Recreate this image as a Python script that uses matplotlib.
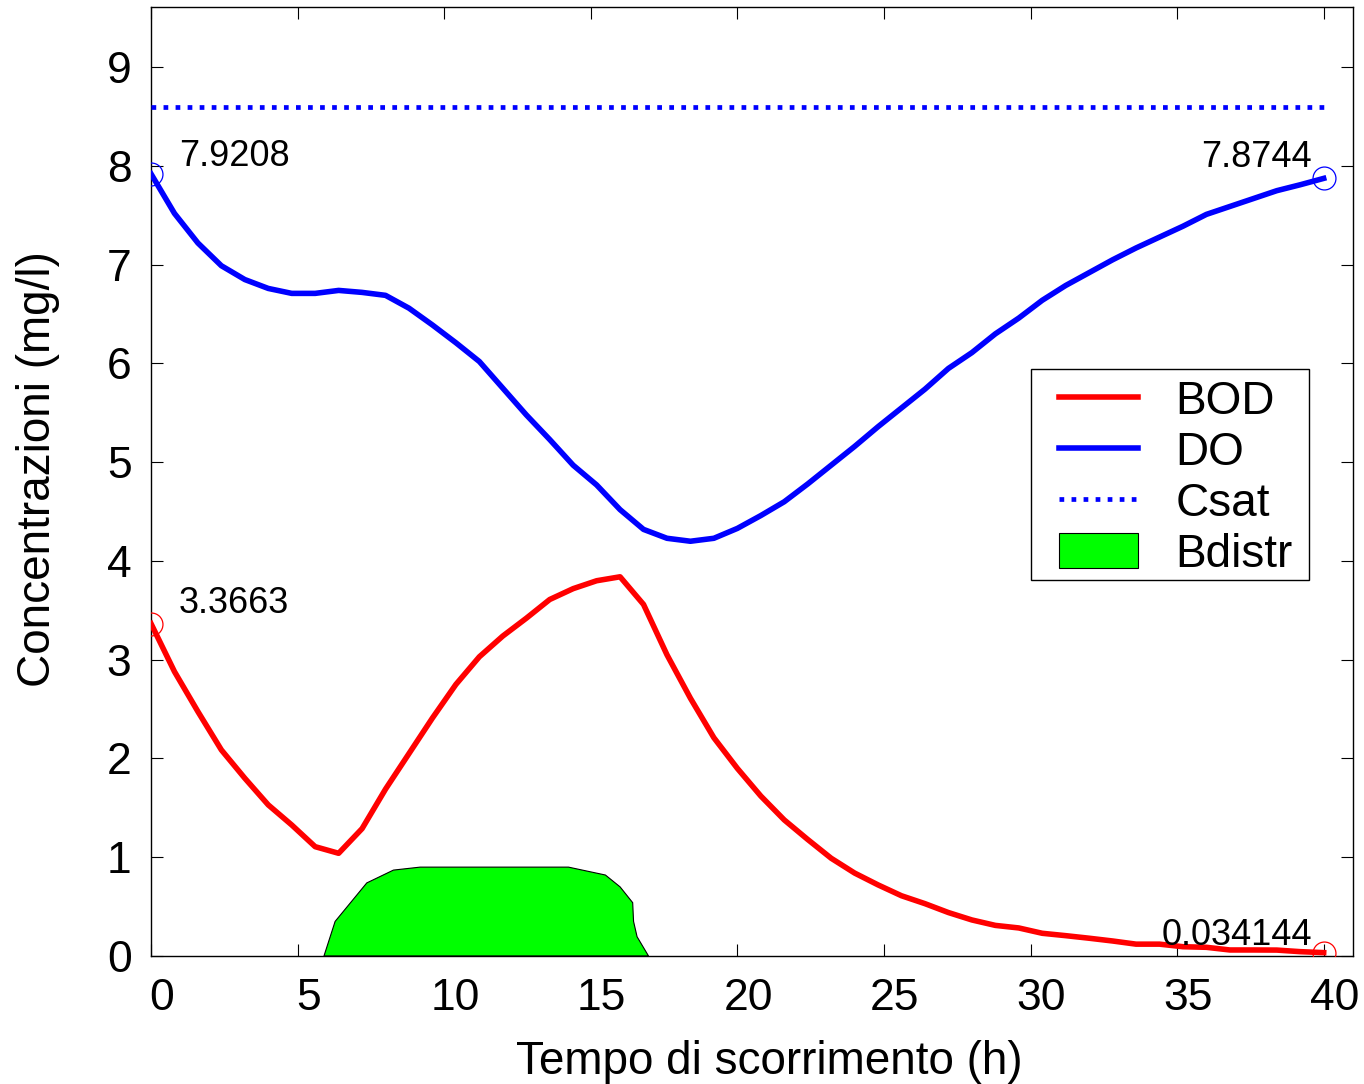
import numpy as np
import matplotlib
matplotlib.use("Agg")
import matplotlib.pyplot as plt
from matplotlib.transforms import ScaledTranslation
from matplotlib.patches import Rectangle

plt.rcParams['font.family'] = ['Liberation Sans', 'DejaVu Sans']

# time grid (h)
t = [0.0, 0.8, 1.6, 2.4, 3.2, 4.0, 4.8, 5.6, 6.4, 7.2,
     8.0, 8.8, 9.6, 10.4, 11.2, 12.0, 12.8, 13.6, 14.4, 15.2,
     16.0, 16.8, 17.6, 18.4, 19.2, 20.0, 20.8, 21.6, 22.4, 23.2,
     24.0, 24.8, 25.6, 26.4, 27.2, 28.0, 28.8, 29.6, 30.4, 31.2,
     32.0, 32.8, 33.6, 34.4, 35.2, 36.0, 36.8, 37.6, 38.4, 39.2, 40.0]

BOD = [3.3663, 2.88, 2.475, 2.087, 1.80, 1.53, 1.327, 1.107, 1.04, 1.29,
       1.69, 2.05, 2.41, 2.75, 3.03, 3.24, 3.42, 3.61, 3.72, 3.80,
       3.84, 3.56, 3.05, 2.61, 2.21, 1.90, 1.62, 1.378, 1.18, 0.99,
       0.84, 0.72, 0.61, 0.53, 0.44, 0.365, 0.31, 0.284, 0.23, 0.206,
       0.18, 0.152, 0.12, 0.12, 0.094, 0.088, 0.061, 0.061, 0.06, 0.044,
       0.034144]

DO = [7.9208, 7.52, 7.22, 6.99, 6.85, 6.76, 6.71, 6.71, 6.74, 6.72,
      6.69, 6.56, 6.39, 6.21, 6.02, 5.75, 5.48, 5.23, 4.97, 4.77,
      4.52, 4.32, 4.23, 4.20, 4.23, 4.33, 4.46, 4.60, 4.78, 4.97,
      5.16, 5.36, 5.55, 5.74, 5.95, 6.11, 6.30, 6.46, 6.64, 6.79,
      6.92, 7.05, 7.17, 7.28, 7.39, 7.51, 7.59, 7.67, 7.75, 7.81,
      7.8744]

CSAT = 8.60

# Bdistr outline
bdistr_t = [5.9, 6.28, 7.36, 8.27, 9.18, 14.24, 15.5, 16.0, 16.43, 16.46, 16.58, 16.97]
bdistr_v = [0.0, 0.35, 0.74, 0.87, 0.90, 0.90, 0.82, 0.70, 0.54, 0.35, 0.195, 0.0]

xticks = [0, 5, 10, 15, 20, 25, 30, 35, 40]
yticks = [0, 1, 2, 3, 4, 5, 6, 7, 8, 9]

W, H = 1364, 1084
fig = plt.figure(figsize=(W / 100, H / 100), dpi=100)
ax = fig.add_axes([151 / W, 1 - 956 / H, 1202 / W, 949 / H])

ax.fill(bdistr_t, bdistr_v, facecolor='#00ff00', edgecolor='black', lw=0.8,
        label='Bdistr', zorder=2)
l_bod, = ax.plot(t, BOD, color='red', lw=4.0, label='BOD', zorder=3)
l_do, = ax.plot(t, DO, color='blue', lw=4.0, label='DO', zorder=3)
l_cs, = ax.plot([t[0], t[-1]], [CSAT, CSAT], color='blue', lw=3.4,
                linestyle=(0, (1, 1.55)), dash_capstyle='butt', label='Csat', zorder=3)

for series, col in ((DO, 'blue'), (BOD, 'red')):
    ax.plot([t[0], t[-1]], [series[0], series[-1]], 'o', mfc='none', mec=col,
            ms=16.5, mew=0.9, zorder=4)

ax.text(t[0] + 0.95, DO[0] + 0.08, f"{DO[0]:.4f}", fontsize=26, ha='left', va='baseline')
ax.text(t[-1] - 0.42, DO[-1] + 0.12, f"{DO[-1]:.4f}", fontsize=26, ha='right', va='baseline')
ax.text(t[0] + 0.95, BOD[0] + 0.11, f"{BOD[0]:.4f}", fontsize=26, ha='left', va='baseline')
ax.text(t[-1] - 0.38, BOD[-1] + 0.08, "0.034144", fontsize=26, ha='right', va='baseline')

ax.set_xlim(0, 41.0)
ax.set_ylim(0, 9.61)
ax.set_xticks(xticks)
ax.set_yticks(yticks)
ax.tick_params(direction='in', length=8.5, width=0.8, top=True, right=True,
               labelsize=32)
ax.tick_params(axis='y', pad=14)
ax.tick_params(axis='x', pad=16)
for sp in ax.spines.values():
    sp.set_linewidth(1.0)

off = ScaledTranslation(11 / 100, 0, fig.dpi_scale_trans)
for lab in ax.get_xticklabels():
    lab.set_transform(lab.get_transform() + off)

ax.set_xlabel('Tempo di scorrimento (h)', fontsize=33)
ax.set_ylabel('Concentrazioni (mg/l)', fontsize=33)
ax.xaxis.set_label_coords(0.514, -0.088)
ax.yaxis.set_label_coords(-0.076, 0.513)

# legend frame (drawn separately for MATLAB-like padding)
ax_w, ax_h = 1202.0, 949.0
frame = Rectangle(((1031 - 151) / ax_w, (956 - 580) / ax_h),
                  (1309 - 1031) / ax_w, (580 - 369) / ax_h,
                  transform=ax.transAxes, facecolor='white', edgecolor='black',
                  lw=1.0, zorder=4.5)
ax.add_patch(frame)

handles = [l_bod, l_do, l_cs, ax.patches[0]]
leg = ax.legend(handles, ['BOD', 'DO', 'Csat', 'Bdistr'], loc='upper left',
                bbox_to_anchor=((1059 - 151) / ax_w, (956 - 380) / ax_h),
                borderaxespad=0, fontsize=33, frameon=False,
                handlelength=1.72, handleheight=0.78, handletextpad=0.82,
                labelspacing=0.15, borderpad=0.0)
leg.set_zorder(5)

fig.savefig('out.png', dpi=100)
